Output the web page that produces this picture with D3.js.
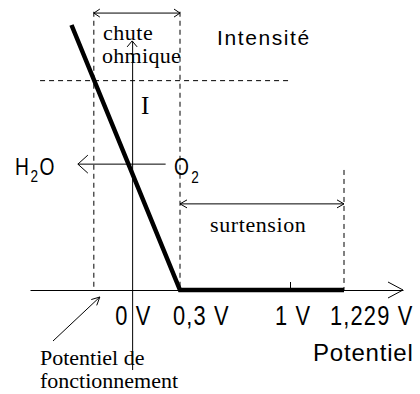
<!DOCTYPE html>
<html>
<head>
<meta charset="utf-8">
<script src="https://cdn.jsdelivr.net/npm/d3@7"></script>
<style>
  html, body { margin: 0; padding: 0; background: #fff; }
  svg { display: block; }
  .sans { font-family: "Liberation Sans", Arial, sans-serif; fill: #000; }
  .serif { font-family: "Liberation Serif", "Times New Roman", serif; fill: #000; }
</style>
</head>
<body>
<svg id="chart" width="420" height="394"></svg>
<script>
// Potential axis (V) and its labels
const tickValues = [0, 0.3, 1, 1.229];
const tickLabels = ["0 V", "0,3 V", "1 V", "1,229 V"];

// Polarisation curve: potential (V) / intensity (arbitrary units)
const curveE = [-0.38, 0.3, 1.229];
const curveI = [1, 0, 0];

// Operating point
const workE = -0.24;
const workI = 0.79;

// Layout of the drawing (the figure is not to scale)
const x = d3.scaleLinear()
  .domain([-0.64, 0.3, 1, 1.229, 1.6])
  .range([30, 180, 290, 344, 403]);

const y = d3.scaleLinear()
  .domain([-0.3, 0.94])
  .range([369.5, 40.9]);

const svg = d3.select("#chart");

// small open arrow head, pointing at (px,py) in direction ang
function chevron(px, py, ang, len, half) {
  const c = Math.cos(ang), s = Math.sin(ang);
  const bx = px - len * c, by = py - len * s;
  return `M${bx - half * s},${by + half * c}L${px},${py}L${bx + half * s},${by - half * c}`;
}

function line(x1, y1, x2, y2, dash) {
  svg.append("line")
    .attr("x1", x1).attr("y1", y1).attr("x2", x2).attr("y2", y2)
    .attr("stroke", "#000").attr("stroke-width", 1)
    .attr("stroke-dasharray", dash || null);
}

function arrowHead(px, py, ang, len, half) {
  svg.append("path")
    .attr("d", chevron(px, py, ang, len, half))
    .attr("fill", "none").attr("stroke", "#000").attr("stroke-width", 1);
}

// Potential axis (only a tick at 1 V, pointing up)
svg.append("g")
  .attr("transform", `translate(0,${y(0)})`)
  .call(d3.axisBottom(x).tickValues([1]).tickSizeInner(-8).tickSizeOuter(0).tickFormat(""))
  .call(g => g.selectAll("path,line").attr("stroke", "#000"));
arrowHead(x(1.6), y(0), 0, 15, 8);

// Intensity axis
svg.append("g")
  .attr("transform", `translate(${x(0)},0)`)
  .call(d3.axisLeft(y).tickValues([]).tickSizeOuter(0))
  .call(g => g.selectAll("path").attr("stroke", "#000"));
arrowHead(x(0), y(0.94), -Math.PI / 2, 6, 5);

// Dashed guide lines
const dash = "5,4";
line(x(workE), y(1.05), x(workE), y(0), dash);
line(x(0.3), y(1.05), x(0.3), y(0), dash);
line(x(1.229), y(0.453), x(1.229), y(0), dash);
line(x(-0.577), y(workI), x(1), y(workI), dash);

// Polarisation curve
const curve = curveE.map((e, i) => [e, curveI[i]]);
svg.append("path")
  .datum(curve)
  .attr("d", d3.line().x(d => x(d[0])).y(d => y(d[1])))
  .attr("fill", "none")
  .attr("stroke", "#000")
  .attr("stroke-width", 4.5)
  .attr("stroke-linejoin", "miter");

// "chute ohmique" double arrow
line(x(workE), y(1.045), x(0.3), y(1.045));
arrowHead(x(workE), y(1.045), Math.PI, 6, 4);
arrowHead(x(0.3), y(1.045), 0, 6, 4);

// "surtension" double arrow
line(x(0.3), y(0.325), x(1.229), y(0.325));
arrowHead(x(0.3), y(0.325), Math.PI, 7, 4);
arrowHead(x(1.229), y(0.325), 0, 7, 4);

// H2O <- O2 arrow
line(x(-0.34), y(0.475), x(0.21), y(0.475));
arrowHead(x(-0.34), y(0.475), Math.PI, 10, 9);

// Arrow to operating potential
line(53, 341, x(workE) + 6, y(0) + 7);
arrowHead(x(workE) + 6, y(0) + 7, Math.atan2(-44, 47), 8, 4);

// Texts
function text(cls, px, py, str, fs, ls, sx) {
  return svg.append("text")
    .attr("class", cls)
    .attr("transform", `translate(${px},${py}) scale(${sx || 1},1)`)
    .attr("font-size", fs)
    .attr("letter-spacing", ls || 0)
    .text(str);
}

text("sans", 217, 45, "Intensité", 21, 1.6);
text("serif", 103, 40, "chute", 22, 0.5);
text("serif", 102, 63, "ohmique", 22, 0.3);
text("serif", 141, 114, "I", 25, 0);
text("serif", 210, 232, "surtension", 22, 0.6);
text("serif", 40, 365, "Potentiel de", 22, 0);
text("serif", 40, 388, "fonctionnement", 22, 0);
text("sans", 313, 361, "Potentiel", 24, 0.8);

// H2O and O2
const h2o = svg.append("text").attr("class", "sans")
  .attr("transform", `translate(15,175) scale(0.8,1)`);
h2o.append("tspan").attr("font-size", 24).text("H");
h2o.append("tspan").attr("font-size", 17).attr("dx", 2).attr("dy", 7).text("2");
h2o.append("tspan").attr("font-size", 24).attr("dx", 2).attr("dy", -7).text("O");

const o2 = svg.append("text").attr("class", "sans")
  .attr("transform", `translate(174,175) scale(0.8,1)`);
o2.append("tspan").attr("font-size", 24).text("O");
o2.append("tspan").attr("font-size", 17).attr("dx", 3).attr("dy", 8).text("2");

// Potential labels
const labelDx = [-17, -7, -15, -14];
tickValues.forEach((v, i) => {
  text("sans", x(v) + labelDx[i], 325, tickLabels[i], 28, 1.5, 0.78);
});
</script>
</body>
</html>
